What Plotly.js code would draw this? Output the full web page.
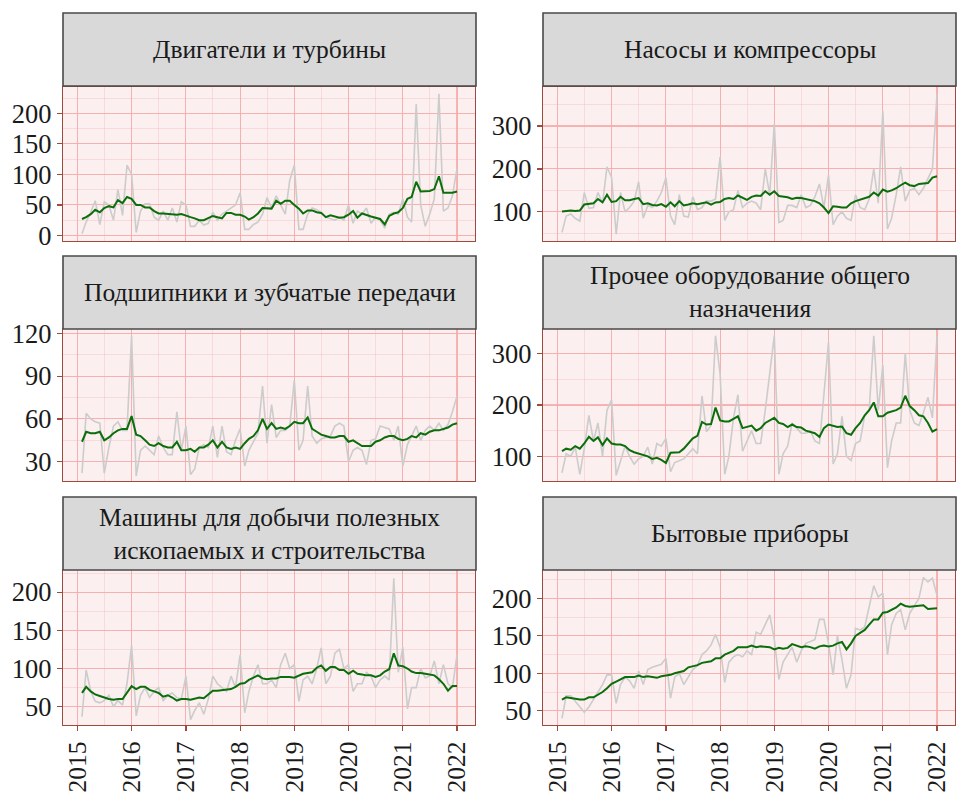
<!DOCTYPE html>
<html>
<head>
<meta charset="utf-8">
<script src="https://cdn.plot.ly/plotly-3.0.1.min.js"></script>
<style>html,body{margin:0;padding:0;background:#fff;}#chart{width:958px;height:794px;}</style>
</head>
<body>
<div id="chart"></div>
<script>
// Monthly dates, Feb 2015 .. Jan 2022
const months = [
 '2015-02-01','2015-03-01','2015-04-01','2015-05-01','2015-06-01','2015-07-01','2015-08-01','2015-09-01','2015-10-01','2015-11-01','2015-12-01',
 '2016-01-01','2016-02-01','2016-03-01','2016-04-01','2016-05-01','2016-06-01','2016-07-01','2016-08-01','2016-09-01','2016-10-01','2016-11-01','2016-12-01',
 '2017-01-01','2017-02-01','2017-03-01','2017-04-01','2017-05-01','2017-06-01','2017-07-01','2017-08-01','2017-09-01','2017-10-01','2017-11-01','2017-12-01',
 '2018-01-01','2018-02-01','2018-03-01','2018-04-01','2018-05-01','2018-06-01','2018-07-01','2018-08-01','2018-09-01','2018-10-01','2018-11-01','2018-12-01',
 '2019-01-01','2019-02-01','2019-03-01','2019-04-01','2019-05-01','2019-06-01','2019-07-01','2019-08-01','2019-09-01','2019-10-01','2019-11-01','2019-12-01',
 '2020-01-01','2020-02-01','2020-03-01','2020-04-01','2020-05-01','2020-06-01','2020-07-01','2020-08-01','2020-09-01','2020-10-01','2020-11-01','2020-12-01',
 '2021-01-01','2021-02-01','2021-03-01','2021-04-01','2021-05-01','2021-06-01','2021-07-01','2021-08-01','2021-09-01','2021-10-01','2021-11-01','2021-12-01',
 '2022-01-01'
];

const panelTitles = [
 'Двигатели и турбины',
 'Насосы и компрессоры',
 'Подшипники и зубчатые передачи',
 'Прочее оборудование общего<br>назначения',
 'Машины для добычи полезных<br>ископаемых и строительства',
 'Бытовые приборы'
];

const xTickLabels = ['2015','2016','2017','2018','2019','2020','2021','2022'];

const enginesRaw = [3,22,38,57,18,55,50,25,75,33,115,
 100,5,40,52,52,30,25,40,25,45,22,55,
 50,15,15,25,17,20,38,25,35,40,45,50,
 70,10,10,18,22,35,62,45,65,50,35,90,
 115,10,10,35,45,42,38,30,28,25,30,25,
 50,20,40,35,45,20,30,25,12,35,38,35,
 60,30,22,215,50,15,35,60,232,40,45,65,
 110];
const enginesTrend = [27,30,35,42,38,45,48,46,58,53,63,
 60,50,50,46,46,40,36,36,35,35,34,35,
 32,30,28,25,25,28,32,30,28,37,37,34,
 34,31,26,30,36,45,45,44,57,52,57,57,
 50,44,36,41,41,38,37,30,33,31,29,30,
 34,40,29,36,33,31,29,27,18,32,36,38,
 45,60,63,88,72,72,73,76,97,70,70,70,
 72];

const pumpsRaw = [52,90,95,85,78,145,108,110,145,120,205,
 180,48,145,100,110,125,170,85,115,110,125,145,
 180,90,70,140,90,88,135,105,110,125,125,130,
 228,80,100,105,150,110,120,125,120,105,200,140,
 305,75,80,115,115,110,140,110,115,135,165,110,
 185,70,90,100,85,80,140,110,105,130,200,120,
 335,60,85,140,205,125,150,155,140,155,180,200,
 375];
const pumpsTrend = [101,102,103,102,103,117,118,120,130,122,140,
 123,125,135,127,127,130,132,118,120,116,115,118,
 112,122,113,125,115,117,120,118,120,122,117,122,
 123,130,132,130,138,133,128,135,138,137,148,140,
 148,137,135,134,130,133,132,130,128,125,120,110,
 97,113,112,110,110,120,125,128,132,135,145,138,
 152,147,150,155,162,168,162,160,165,166,167,180,
 183];

const bearingsRaw = [22,64,60,58,57,22,40,55,58,52,52,
 118,20,38,41,38,35,48,40,35,35,65,38,
 55,21,25,40,42,40,55,33,55,37,35,45,
 53,27,38,44,50,83,43,70,47,52,52,55,
 87,38,45,83,48,43,46,47,48,55,57,55,
 30,38,40,38,28,45,46,55,54,53,45,55,
 27,42,48,55,45,52,55,52,57,52,56,65,
 76];
const bearingsTrend = [44,51,50,50,51,45,47,50,52,53,53,
 62,49,48,45,42,41,43,41,40,40,44,38,
 38,39,37,40,40,42,45,40,44,40,39,40,
 39,43,46,48,52,60,53,57,53,54,53,55,
 58,57,57,61,53,51,49,48,47,47,48,48,
 44,45,43,41,41,41,44,45,47,48,48,46,
 45,46,48,47,50,49,51,52,52,53,54,56,
 57];

const otherRaw = [68,105,100,118,65,115,180,130,165,100,190,
 210,63,90,120,100,85,95,100,118,85,125,120,
 135,70,88,92,95,105,115,105,218,148,160,335,
 260,65,100,175,220,110,130,150,125,125,190,260,
 335,65,105,120,165,155,145,145,150,130,125,220,
 322,85,105,178,100,92,125,130,180,190,335,190,
 278,78,130,165,165,300,190,165,160,185,215,175,
 335];
const otherTrend = [110,115,113,120,115,125,138,130,137,122,135,
 125,123,123,120,112,108,105,103,100,95,97,93,
 87,107,108,108,115,125,135,140,167,162,163,195,
 170,168,168,173,178,155,158,160,150,155,165,170,
 175,165,163,157,162,157,156,150,147,145,138,155,
 162,160,157,158,145,142,155,165,180,190,205,178,
 178,185,188,190,195,218,198,190,180,178,165,148,
 153];

const miningRaw = [37,98,70,57,55,58,65,50,58,52,80,
 130,38,65,75,62,70,75,58,65,68,62,60,
 90,33,45,55,40,60,90,80,75,70,90,75,
 118,42,70,90,105,80,80,85,75,105,120,100,
 105,57,85,90,80,100,127,80,90,120,125,100,
 105,70,80,80,95,90,75,85,90,85,218,95,
 128,47,75,75,100,88,90,110,80,105,80,75,
 118];
const miningTrend = [68,76,70,66,64,62,60,59,60,60,68,
 77,73,76,76,72,70,68,63,65,62,58,60,
 60,59,60,62,61,66,71,71,72,72,73,76,
 80,81,85,88,91,87,86,87,87,89,89,89,
 88,91,93,94,95,101,104,97,102,102,98,98,
 93,97,93,92,91,91,89,91,96,99,120,104,
 103,100,96,94,94,93,92,91,86,80,71,77,
 77];

const householdRaw = [40,70,70,63,55,48,55,65,75,85,98,
 98,60,85,95,90,80,103,85,105,108,110,112,
 120,67,95,100,85,95,105,110,125,130,138,152,
 135,88,115,122,125,122,130,125,155,152,165,178,
 145,92,115,125,135,115,130,140,142,145,172,172,
 140,98,150,118,80,98,160,158,162,190,217,202,
 207,125,165,180,185,158,180,190,200,228,222,227,
 204];
const householdTrend = [65,68,67,66,65,65,68,68,71,75,80,
 86,89,92,95,95,95,97,95,96,95,94,96,
 97,98,100,102,103,108,109,111,114,115,116,120,
 120,125,127,130,135,135,135,137,135,136,136,135,
 132,134,133,134,139,137,135,136,135,133,136,137,
 136,137,140,142,132,140,150,154,158,165,172,172,
 181,182,185,188,193,190,189,190,191,191,186,186,
 187];

const rawSeries = [enginesRaw, pumpsRaw, bearingsRaw, otherRaw, miningRaw, householdRaw];
const trendSeries = [enginesTrend, pumpsTrend, bearingsTrend, otherTrend, miningTrend, householdTrend];

// y-axis settings per panel
const yRanges = [[-9, 243], [32, 391], [16.5, 123], [52, 348], [26, 229], [31, 238]];
const yTickVals = [[0,50,100,150,200],[100,200,300],[30,60,90,120],[100,200,300],[50,100,150,200],[50,100,150,200]];
const yMinorStep = [25, 50, 15, 50, 25, 25];

// layout geometry (pixels)
const W = 958, H = 794;
const colPx = [[63, 475], [543, 955]];
const rowPx = [[87, 241], [329, 481], [570, 725]];
const stripPx = [[13, 86], [256, 329], [497, 570]];

const FONT = 'Liberation Serif, Times New Roman, serif';
const borderColor = '#9e4b3e';
const majorGrid = 'rgba(246,165,165,0.8)';
const minorGrid = 'rgba(246,192,192,0.6)';

const traces = [];
const layout = {
  width: W, height: H,
  margin: {l: 0, r: 0, t: 0, b: 0},
  paper_bgcolor: '#ffffff',
  plot_bgcolor: '#fcefef',
  showlegend: false,
  font: {family: FONT, size: 26, color: '#1a1a1a'},
  shapes: [],
  annotations: []
};

for (let p = 0; p < 6; p++) {
  const col = p % 2, row = Math.floor(p / 2);
  const sfx = p === 0 ? '' : String(p + 1);
  traces.push({
    x: months, y: rawSeries[p], type: 'scatter', mode: 'lines',
    line: {color: '#cccccc', width: 1.6},
    xaxis: 'x' + sfx, yaxis: 'y' + sfx, hoverinfo: 'skip'
  });
  traces.push({
    x: months, y: trendSeries[p], type: 'scatter', mode: 'lines',
    line: {color: '#0a6e0a', width: 2},
    xaxis: 'x' + sfx, yaxis: 'y' + sfx, hoverinfo: 'skip'
  });
  const bottom = row === 2;
  layout['xaxis' + sfx] = {
    domain: [colPx[col][0] / W, colPx[col][1] / W],
    anchor: 'y' + sfx,
    type: 'date',
    range: ['2014-09-26', '2022-05-02'],
    tickvals: xTickLabels.map(y => y + '-01-01'),
    ticktext: xTickLabels,
    showticklabels: bottom,
    ticks: bottom ? 'outside' : '',
    ticklen: 5, tickwidth: 1.2, tickcolor: borderColor,
    tickangle: -90,
    tickfont: {family: FONT, size: 25.5, color: '#1a1a1a'},
    showgrid: true, gridcolor: majorGrid, gridwidth: 1.1,
    minor: {dtick: 'M6', tick0: '2015-07-01', showgrid: true, gridcolor: minorGrid, gridwidth: 0.8, ticks: ''},
    showline: true, mirror: true, linecolor: borderColor, linewidth: 1.3,
    zeroline: false, fixedrange: true
  };
  layout['yaxis' + sfx] = {
    domain: [1 - rowPx[row][1] / H, 1 - rowPx[row][0] / H],
    anchor: 'x' + sfx,
    range: yRanges[p],
    tickvals: yTickVals[p],
    ticktext: yTickVals[p].map(String),
    ticks: 'outside', ticklen: 5, tickwidth: 1.2, tickcolor: borderColor,
    tickfont: {family: FONT, size: 26.5, color: '#1a1a1a'},
    showgrid: true, gridcolor: majorGrid, gridwidth: 1.1,
    minor: {dtick: yMinorStep[p], tick0: 0, showgrid: true, gridcolor: minorGrid, gridwidth: 0.8, ticks: ''},
    showline: true, mirror: true, linecolor: borderColor, linewidth: 1.3,
    zeroline: false, fixedrange: true
  };
  // strip
  const x0 = colPx[col][0] / W, x1 = (colPx[col][1] + 1) / W;
  const y0 = 1 - stripPx[row][1] / H, y1 = 1 - stripPx[row][0] / H;
  layout.shapes.push({
    type: 'rect', xref: 'paper', yref: 'paper', x0: x0, x1: x1, y0: y0, y1: y1,
    fillcolor: '#d9d9d9', line: {color: '#4a4a4a', width: 1.6}, layer: 'above'
  });
  layout.annotations.push({
    xref: 'paper', yref: 'paper', x: (x0 + x1) / 2, y: (y0 + y1) / 2,
    xanchor: 'center', yanchor: 'middle', showarrow: false,
    text: panelTitles[p],
    font: {family: FONT, size: 25.5, color: '#1a1a1a'}
  });
}

Plotly.newPlot('chart', traces, layout, {staticPlot: true, displayModeBar: false});
</script>
</body>
</html>
